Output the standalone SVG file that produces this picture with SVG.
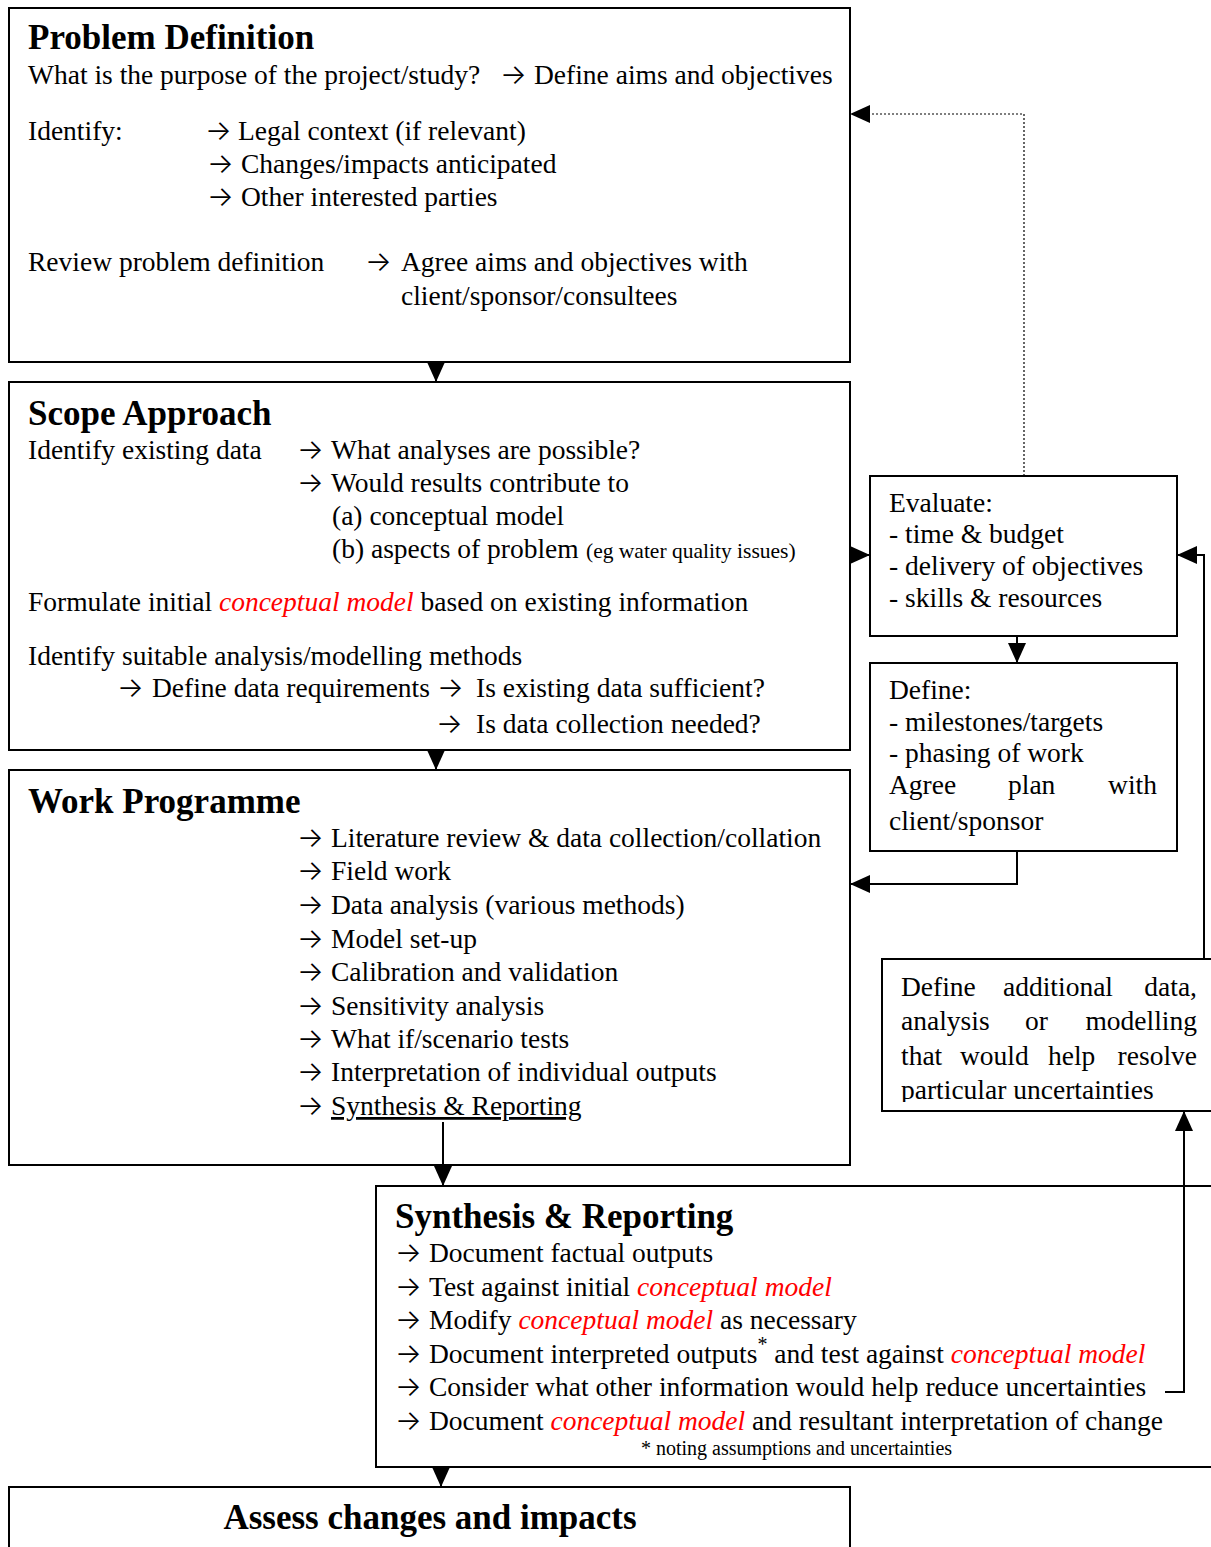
<svg xmlns="http://www.w3.org/2000/svg" width="1211" height="1547" viewBox="0 0 1211 1547">
<style>
text{font-family:"Liberation Serif","Times New Roman",serif;font-size:27.5px;fill:#000}
.t{font-weight:bold;font-size:35px}
.r{fill:#ff0000;font-style:italic}
.a{font-family:Inter,"DejaVu Sans",sans-serif;font-size:28px;font-weight:300}
.s{font-size:21.5px}
.f{font-size:20px}
.box{fill:#fff;stroke:#000;stroke-width:2}
.c{fill:none;stroke:#000;stroke-width:2}
.d{fill:none;stroke:#000;stroke-width:1.2;stroke-dasharray:2 2}
</style>
<defs>
<marker id="ah" viewBox="0 0 20 18" refX="20" refY="9" markerWidth="20" markerHeight="18" markerUnits="userSpaceOnUse" orient="auto">
<path d="M0,0 L20,9 L0,18 z" fill="#000"/>
</marker>
<clipPath id="clipAdd"><rect x="882" y="959" width="340" height="143"/></clipPath>
</defs>
<rect width="1211" height="1547" fill="#fff"/>

<g id="problem">
<rect class="box" x="9" y="8" width="841" height="354"/>
<text class="t" x="28" y="49">Problem Definition</text>
<text x="28" y="84">What is the purpose of the project/study?</text>
<text y="84"><tspan class="a" x="500">→</tspan><tspan x="534">Define aims and objectives</tspan></text>
<text x="28" y="140">Identify:</text>
<text y="140"><tspan class="a" x="205">→</tspan><tspan x="238">Legal context (if relevant)</tspan></text>
<text y="173"><tspan class="a" x="207">→</tspan><tspan x="241">Changes/impacts anticipated</tspan></text>
<text y="206"><tspan class="a" x="207">→</tspan><tspan x="241">Other interested parties</tspan></text>
<text x="28" y="271">Review problem definition</text>
<text y="271"><tspan class="a" x="365">→</tspan><tspan x="401">Agree aims and objectives with</tspan></text>
<text x="401" y="305">client/sponsor/consultees</text>
</g>

<g id="scope">
<rect class="box" x="9" y="382" width="841" height="368"/>
<text class="t" x="28" y="425">Scope Approach</text>
<text x="28" y="459">Identify existing data</text>
<text y="459"><tspan class="a" x="297">→</tspan><tspan x="331">What analyses are possible?</tspan></text>
<text y="492"><tspan class="a" x="297">→</tspan><tspan x="331">Would results contribute to</tspan></text>
<text x="332" y="525">(a) conceptual model</text>
<text x="332" y="558">(b) aspects of problem</text>
<text class="s" x="586" y="558">(eg water quality issues)</text>
<text x="28" y="611">Formulate initial <tspan class="r">conceptual model</tspan> based on existing information</text>
<text x="28" y="665">Identify suitable analysis/modelling methods</text>
<text y="697"><tspan class="a" x="117">→</tspan><tspan x="152">Define data requirements</tspan></text>
<text y="697"><tspan class="a" x="437">→</tspan><tspan x="476">Is existing data sufficient?</tspan></text>
<text y="733"><tspan class="a" x="436">→</tspan><tspan x="476">Is data collection needed?</tspan></text>
</g>

<g id="work">
<rect class="box" x="9" y="770" width="841" height="395"/>
<text class="t" x="28" y="813">Work Programme</text>
<text y="847"><tspan class="a" x="297">→</tspan><tspan x="331">Literature review &amp; data collection/collation</tspan></text>
<text y="880"><tspan class="a" x="297">→</tspan><tspan x="331">Field work</tspan></text>
<text y="914"><tspan class="a" x="297">→</tspan><tspan x="331">Data analysis (various methods)</tspan></text>
<text y="948"><tspan class="a" x="297">→</tspan><tspan x="331">Model set-up</tspan></text>
<text y="981"><tspan class="a" x="297">→</tspan><tspan x="331">Calibration and validation</tspan></text>
<text y="1015"><tspan class="a" x="297">→</tspan><tspan x="331">Sensitivity analysis</tspan></text>
<text y="1048"><tspan class="a" x="297">→</tspan><tspan x="331">What if/scenario tests</tspan></text>
<text y="1081"><tspan class="a" x="297">→</tspan><tspan x="331">Interpretation of individual outputs</tspan></text>
<text y="1115"><tspan class="a" x="297">→</tspan><tspan x="331" text-decoration="underline">Synthesis &amp; Reporting</tspan></text>
</g>

<g id="evaluate">
<rect class="box" x="870" y="476" width="307" height="160"/>
<text x="889" y="512">Evaluate:</text>
<text x="889" y="543">- time &amp; budget</text>
<text x="889" y="575">- delivery of objectives</text>
<text x="889" y="607">- skills &amp; resources</text>
</g>

<g id="define">
<rect class="box" x="870" y="663" width="307" height="188"/>
<text x="889" y="699">Define:</text>
<text x="889" y="731">- milestones/targets</text>
<text x="889" y="762">- phasing of work</text>
<text x="889" y="794">Agree</text>
<text x="1008" y="794">plan</text>
<text x="1157" y="794" text-anchor="end">with</text>
<text x="889" y="830">client/sponsor</text>
</g>

<g id="additional">
<rect class="box" x="882" y="959" width="340" height="152"/>
<g clip-path="url(#clipAdd)">
<text x="901" y="996">Define</text>
<text x="1003" y="996">additional</text>
<text x="1197" y="996" text-anchor="end">data,</text>
<text x="901" y="1030">analysis</text>
<text x="1025" y="1030">or</text>
<text x="1197" y="1030" text-anchor="end">modelling</text>
<text x="901" y="1065">that</text>
<text x="960" y="1065">would</text>
<text x="1048" y="1065">help</text>
<text x="1197" y="1065" text-anchor="end">resolve</text>
<text x="901" y="1099">particular uncertainties</text>
</g>
</g>

<g id="synthesis">
<rect class="box" x="376" y="1186" width="850" height="281"/>
<text class="t" x="395" y="1228">Synthesis &amp; Reporting</text>
<text y="1262"><tspan class="a" x="395">→</tspan><tspan x="429">Document factual outputs</tspan></text>
<text y="1296"><tspan class="a" x="395">→</tspan><tspan x="429">Test against initial </tspan><tspan class="r">conceptual model</tspan></text>
<text y="1329"><tspan class="a" x="395">→</tspan><tspan x="429">Modify </tspan><tspan class="r">conceptual model</tspan><tspan> as necessary</tspan></text>
<text y="1363"><tspan class="a" x="395">→</tspan><tspan x="429">Document interpreted outputs</tspan><tspan class="f" dy="-12">*</tspan><tspan dy="12"> and test against </tspan><tspan class="r">conceptual model</tspan></text>
<text y="1396"><tspan class="a" x="395">→</tspan><tspan x="429">Consider what other information would help reduce uncertainties</tspan></text>
<text y="1430"><tspan class="a" x="395">→</tspan><tspan x="429">Document </tspan><tspan class="r">conceptual model</tspan><tspan> and resultant interpretation of change</tspan></text>
<text class="f" x="641" y="1455">* noting assumptions and uncertainties</text>
</g>

<g id="assess">
<rect class="box" x="9" y="1487" width="841" height="80"/>
<text class="t" x="430" y="1529" text-anchor="middle">Assess changes and impacts</text>
</g>

<g id="connectors">
<path class="c" d="M436,362 L436,382" marker-end="url(#ah)"/>
<path class="c" d="M436,750 L436,770" marker-end="url(#ah)"/>
<path class="c" d="M443,1122 L443,1186" marker-end="url(#ah)"/>
<path class="c" d="M441,1467 L441,1487" marker-end="url(#ah)"/>
<path class="c" d="M850,555 L870,555" marker-end="url(#ah)"/>
<path class="d" d="M1024,476 L1024,114 L851,114"/>
<path d="M870,105 L850,114 L870,123 z" fill="#000"/>
<path class="c" d="M1017,636 L1017,663" marker-end="url(#ah)"/>
<path class="c" d="M1017,851 L1017,884 L850,884" marker-end="url(#ah)"/>
<path class="c" d="M1204,959 L1204,555 L1177,555" marker-end="url(#ah)"/>
<path class="c" d="M1165,1392 L1184,1392 L1184,1111" marker-end="url(#ah)"/>
</g>
</svg>
